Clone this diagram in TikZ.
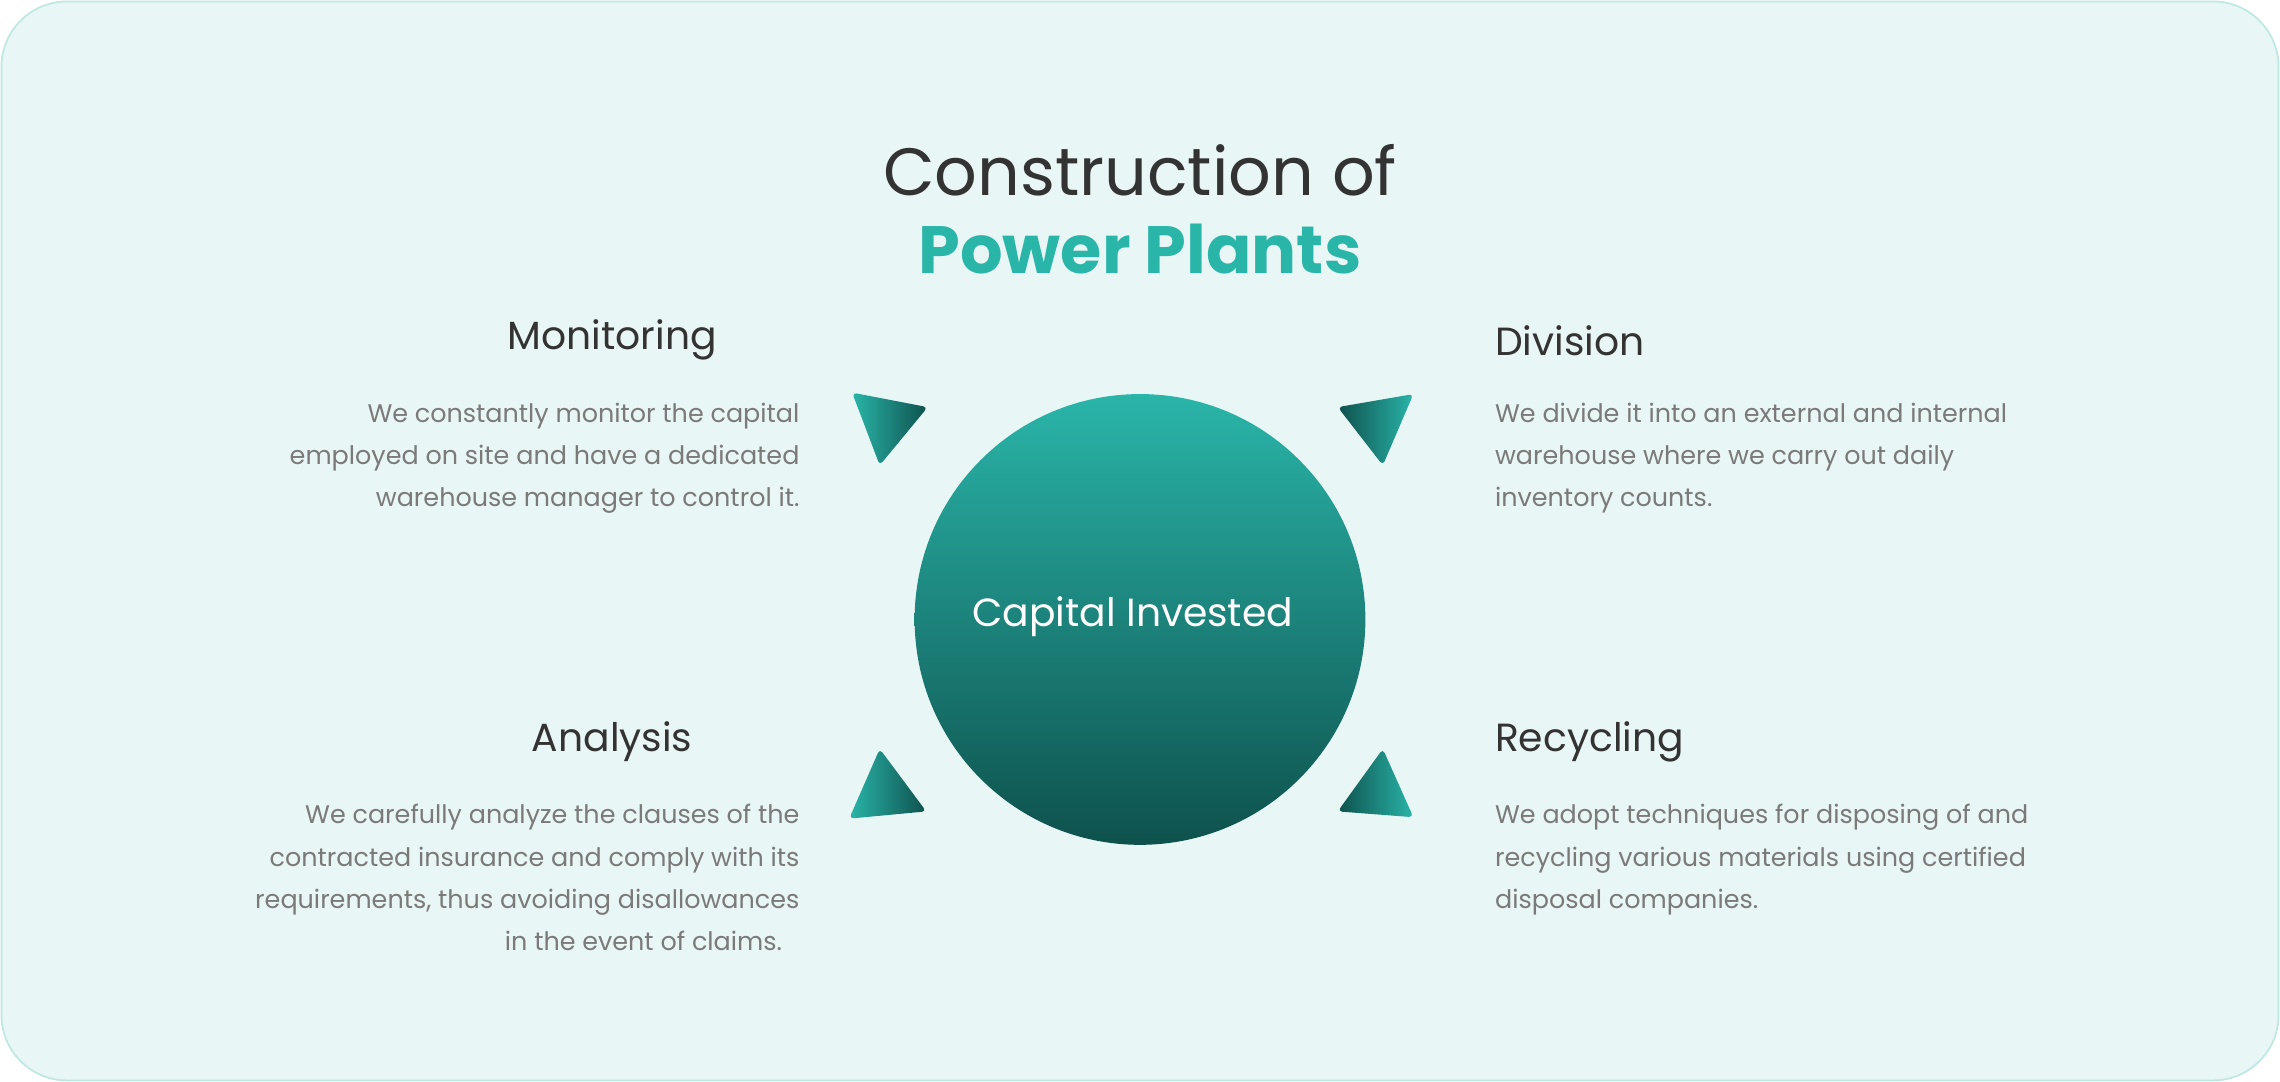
\documentclass[tikz,border=0pt]{standalone}
\usepackage{fontspec}
\setmainfont{Poppins}
\usetikzlibrary{shadings}
\definecolor{bg}{HTML}{E8F6F5}
\definecolor{bd}{HTML}{BFE8E2}
\definecolor{tl}{HTML}{2AB5A9}
\definecolor{dk}{HTML}{0E514D}
\definecolor{hd}{HTML}{333333}
\definecolor{bt}{HTML}{7A7A7A}
\begin{document}
\begin{tikzpicture}[x=1pt,y=-1pt,
 head/.style={font=\fontsize{27}{32}\selectfont\mdseries, text=hd, inner sep=0},
 bodyR/.style={font=\fontsize{17.5}{29}\selectfont, text=bt, align=right, anchor=north east, inner sep=0},
 bodyL/.style={font=\fontsize{17.5}{29}\selectfont, text=bt, align=left, anchor=north west, inner sep=0},
 tri/.style={rounded corners=3pt, left color=tl, right color=dk, shading angle=0}]
\useasboundingbox (0,0) rectangle (1568,744);
\draw[fill=bg, draw=bd, line width=1.2pt, rounded corners=45pt] (1,1) rectangle (1567,743);
\node[font=\fontsize{46}{50}\selectfont, text=hd] (t1) at (784,117) {Construction of};
\node[font=\fontsize{46}{50}\selectfont\bfseries, text=tl] (t2) at (784,171) {Power Plants};
\shade[top color=tl, bottom color=dk] (784,426) circle (155);
\node[font=\fontsize{27}{30}\selectfont, text=white] (c) at (779,424) {Capital Invested};
% triangles
\shade[tri, left color=tl, right color=dk] (586,270) -- (638,280) -- (605,320) -- cycle;
\shade[tri, left color=dk, right color=tl] (920,280) -- (972,271) -- (951,320) -- cycle;
\shade[tri, left color=tl, right color=dk] (605,515) -- (637,558) -- (584,563) -- cycle;
\shade[tri, left color=dk, right color=tl] (951,515) -- (972,562) -- (920,558) -- cycle;
% texts
\node[head] (h1) at (421,234) {Monitoring};
\node[bodyR] (b1) at (550,277) {We constantly monitor the capital\\employed on site and have a dedicated\\warehouse manager to control it.};
\node[head, anchor=west] (h2) at (1028,234) {Division};
\node[bodyL] (b2) at (1028,277) {We divide it into an external and internal\\warehouse where we carry out daily\\inventory counts.};
\node[head] (h3) at (421,510) {Analysis};
\node[bodyR] (b3) at (550,553) {We carefully analyze the clauses of the\\contracted insurance and comply with its\\requirements, thus avoiding disallowances\\in the event of claims.\hspace*{12pt}};
\node[head, anchor=west] (h4) at (1028,510) {Recycling};
\node[bodyL] (b4) at (1028,553) {We adopt techniques for disposing of and\\recycling various materials using certified\\disposal companies.};
\end{tikzpicture}
\end{document}
